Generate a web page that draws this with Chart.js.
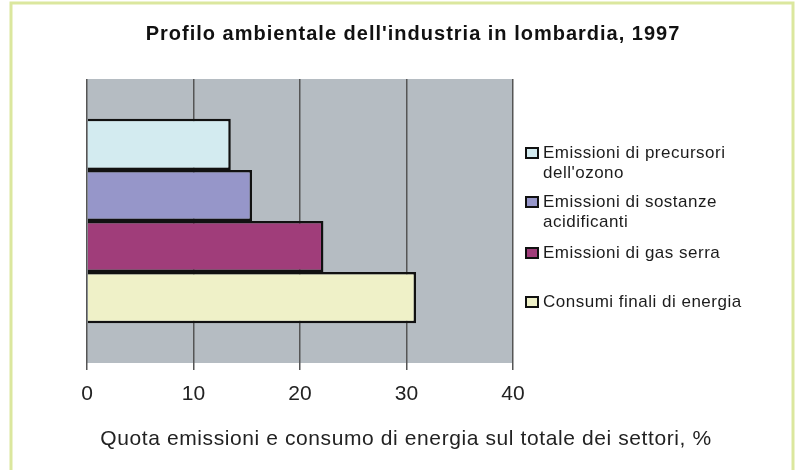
<!DOCTYPE html>
<html>
<head>
<meta charset="utf-8">
<script src="https://cdn.jsdelivr.net/npm/chart.js@4"></script>
<style>
  html, body { margin: 0; padding: 0; background: #fff; }
  #wrap { width: 800px; height: 470px; }
</style>
</head>
<body>
<div id="wrap"><canvas id="myChart" width="800" height="470"></canvas></div>
<script>
let titolo = "Profilo ambientale dell'industria in lombardia, 1997";
let titoloAsse = "Quota emissioni e consumo di energia sul totale dei settori, %";
let categorie = ['1997'];
let serie = [
  ['Emissioni di precursori', "dell'ozono"],
  ['Emissioni di sostanze', 'acidificanti'],
  ['Emissioni di gas serra'],
  ['Consumi finali di energia']
];
let valori = [13.5, 15.5, 22.2, 30.9];
let colori = ['#d3ebf0', '#9696c9', '#a03d7a', '#eff1c8'];
let tickAsse = [0, 10, 20, 30, 40];

let sfondo = {
  id: 'sfondo',
  beforeDraw(chart) {
    let c = chart.ctx, a = chart.chartArea;
    c.save();
    c.fillStyle = '#b5bcc2';
    c.fillRect(a.left, a.top, a.right - a.left, a.bottom - a.top);
    c.restore();
  },
  afterDraw(chart) {
    let c = chart.ctx;
    c.save();
    // cornice esterna
    c.strokeStyle = '#dbe79e';
    c.lineWidth = 3;
    c.strokeRect(11, 3, 782, 480);
    // titolo
    c.fillStyle = '#111';
    c.textAlign = 'center';
    c.textBaseline = 'middle';
    c.letterSpacing = '1px';
    c.font = 'bold 20px "Liberation Sans", Arial, sans-serif';
    c.fillText(titolo, 413, 34);
    // titolo asse
    c.fillStyle = '#222';
    c.letterSpacing = '0.6px';
    c.font = '21px "Liberation Sans", Arial, sans-serif';
    c.fillText(titoloAsse, 406, 439);
    // legenda
    let ys = [153, 202, 253, 302];
    c.textAlign = 'left';
    c.letterSpacing = '0.5px';
    c.font = '17px "Liberation Sans", Arial, sans-serif';
    chart.data.datasets.forEach((ds, i) => {
      c.fillStyle = ds.backgroundColor;
      c.fillRect(526, ys[i] - 5, 12, 10);
      c.strokeStyle = '#111';
      c.lineWidth = 2;
      c.strokeRect(526, ys[i] - 5, 12, 10);
      c.fillStyle = '#1c1c1c';
      ds.label.forEach((riga, j) => {
        c.fillText(riga, 543, ys[i] + j * 20);
      });
    });
    c.restore();
  }
};

let ctx = document.getElementById('myChart').getContext('2d');

let chart = new Chart(ctx, {
  type: 'bar',
  data: {
    labels: categorie,
    datasets: serie.map((s, i) => ({
      label: s,
      data: [valori[i]],
      backgroundColor: colori[i],
      borderColor: '#111',
      borderWidth: 2.5
    }))
  },
  options: {
    indexAxis: 'y',
    responsive: false,
    animation: false,
    events: [],
    layout: { padding: { left: 87, right: 287, top: 79, bottom: 0 } },
    categoryPercentage: 0.72,
    barPercentage: 1,
    plugins: {
      legend: { display: false },
      title: { display: false },
      tooltip: { enabled: false }
    },
    scales: {
      y: { display: false },
      x: {
        min: 0,
        max: 40,
        afterBuildTicks(scale) {
          scale.ticks = tickAsse.map(v => ({ value: v }));
        },
        afterFit(scale) { scale.height = 107; },
        border: { display: false },
        grid: { color: '#555', lineWidth: 1.5, tickLength: 7 },
        ticks: {
          color: '#222',
          padding: 12,
          font: { family: '"Liberation Sans", Arial, sans-serif', size: 21 }
        }
      }
    }
  },
  plugins: [sfondo]
});
</script>
</body>
</html>
